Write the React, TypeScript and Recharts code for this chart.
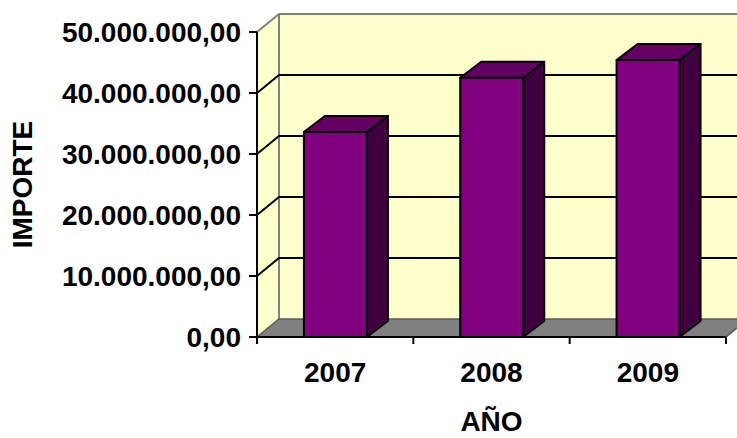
import React from 'react';
import { BarChart, Bar, XAxis, YAxis, ReferenceArea, ReferenceLine } from 'recharts';

const years = ['2007', '2008', '2009'];
const importes = [33600000, 42500000, 45400000];
const yTicks = [0, 10000000, 20000000, 30000000, 40000000, 50000000];

const data = years.map((year, i) => ({ year, importe: importes[i] }));

// depth of the 3d walls and of the columns
const DX = 22;
const DY = 18;
const BDX = 21;
const BDY = 16;

const font = '"Liberation Sans", Arial, sans-serif';

const fmt = (v: number) => Math.round(v).toString().replace(/\B(?=(\d{3})+(?!\d))/g, '.') + ',00';

function Walls(props: any) {
  const { x, y, width, height } = props;
  const b = y + height;
  const r = x + width;
  return (
    <g>
      <polygon points={`${x},${y} ${x + DX},${y - DY} ${x + DX},${b - DY} ${x},${b}`} fill="#FFFFCC" />
      <rect x={x + DX} y={y - DY} width={width + 60} height={height} fill="#FFFFCC" />
      <polyline
        points={`${x},${y} ${x + DX},${y - DY} ${r + DX + 60},${y - DY}`}
        fill="none"
        stroke="#808080"
        strokeWidth={2}
      />
      <line x1={x + DX} y1={y - DY} x2={x + DX} y2={b - DY} stroke="#808080" strokeWidth={2} />
      <polygon
        points={`${x},${b} ${r},${b} ${r + DX},${b - DY} ${x + DX},${b - DY}`}
        fill="#808080"
        stroke="#5a5a5a"
        strokeWidth={1.5}
      />
    </g>
  );
}

function GridLine(props: any) {
  const { x1, y1, x2 } = props;
  return (
    <polyline
      points={`${x1},${y1} ${x1 + DX},${y1 - DY} ${x2 + DX + 60},${y1 - DY}`}
      fill="none"
      stroke="#000"
      strokeWidth={2}
    />
  );
}

function Column(props: any) {
  const { x, y, width, height } = props;
  const r = x + width;
  const b = y + height;
  return (
    <g stroke="#000" strokeWidth={2} strokeLinejoin="round">
      <polygon points={`${r},${y} ${r + BDX},${y - BDY} ${r + BDX},${b - BDY} ${r},${b}`} fill="#400040" />
      <polygon points={`${x},${y} ${x + BDX},${y - BDY} ${r + BDX},${y - BDY} ${r},${y}`} fill="#640064" />
      <rect x={x} y={y} width={width} height={height} fill="#800080" />
    </g>
  );
}

function XTick(props: any) {
  const { x, y, payload, index } = props;
  const off = payload?.offset ?? (props.width ? props.width / years.length / 2 : 78);
  return (
    <g>
      <line x1={x - off} y1={y} x2={x - off} y2={y + 7} stroke="#000" strokeWidth={2} />
      {index === years.length - 1 && (
        <line x1={x + off} y1={y} x2={x + off} y2={y + 7} stroke="#000" strokeWidth={2} />
      )}
      <text x={x} y={y + 45} textAnchor="middle" fontFamily={font} fontWeight="bold" fontSize={28} fill="#000">
        {payload.value}
      </text>
    </g>
  );
}

export default function App() {
  return (
    <div style={{ position: 'absolute', left: 0, top: 0, background: '#fff' }}>
      <BarChart
        width={737}
        height={438}
        data={data}
        margin={{ top: 32, right: 11, bottom: 0, left: 0 }}
        barCategoryGap="30%"
      >
        <ReferenceArea
          y1={yTicks[0]}
          y2={yTicks[yTicks.length - 1]}
          shape={(p: any) => <Walls {...p} />}
          zIndex={-300}
        />
        {yTicks.slice(1, -1).map((t) => (
          <ReferenceLine key={t} y={t} shape={(p: any) => <GridLine {...p} />} zIndex={-250} />
        ))}
        <XAxis
          dataKey="year"
          height={101}
          interval={0}
          tickLine={false}
          tickSize={0}
          tickMargin={0}
          axisLine={{ stroke: '#000', strokeWidth: 2 }}
          tick={<XTick />}
          label={(p: any) => {
            const vb = p.viewBox;
            return (
              <text
                x={vb.x + vb.width / 2}
                y={431}
                textAnchor="middle"
                fontFamily={font}
                fontWeight="bold"
                fontSize={28}
                fill="#000"
              >
                AÑO
              </text>
            );
          }}
        />
        <YAxis
          width={257}
          domain={[yTicks[0], yTicks[yTicks.length - 1]]}
          ticks={yTicks}
          interval={0}
          tickFormatter={fmt}
          tickSize={8}
          tickMargin={8}
          axisLine={{ stroke: '#000', strokeWidth: 2 }}
          tickLine={{ stroke: '#000', strokeWidth: 2 }}
          tick={{ fill: '#000', fontSize: 28, fontWeight: 'bold', fontFamily: font }}
          label={(p: any) => {
            const vb = p.viewBox;
            const cx = 22;
            const cy = vb.y + vb.height / 2;
            return (
              <text
                x={cx}
                y={cy}
                transform={`rotate(-90 ${cx} ${cy})`}
                textAnchor="middle"
                dominantBaseline="central"
                fontFamily={font}
                fontWeight="bold"
                fontSize={28}
                fill="#000"
              >
                IMPORTE
              </text>
            );
          }}
        />
        <Bar dataKey="importe" shape={(p: any) => <Column {...p} />} isAnimationActive={false} />
      </BarChart>
    </div>
  );
}
